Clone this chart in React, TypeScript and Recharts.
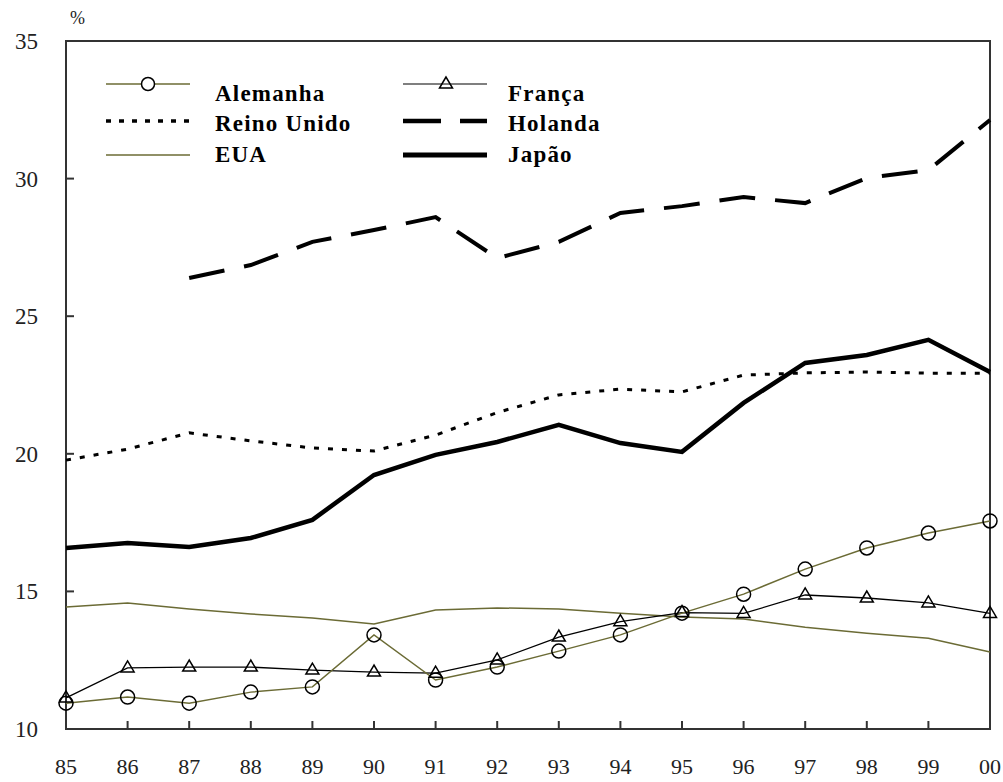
import React from "react";
import { LineChart, Line, XAxis, YAxis, ReferenceArea } from "recharts";

const years = ["85", "86", "87", "88", "89", "90", "91", "92", "93", "94", "95", "96", "97", "98", "99", "00"];

const alemanha = [10.94, 11.16, 10.94, 11.34, 11.53, 13.42, 11.78, 12.25, 12.83, 13.42, 14.21, 14.9, 15.81, 16.58, 17.12, 17.56];
const franca = [11.13, 12.22, 12.25, 12.25, 12.14, 12.07, 12.03, 12.51, 13.34, 13.9, 14.23, 14.2, 14.87, 14.76, 14.58, 14.2];
const reinoUnido = [19.77, 20.17, 20.76, 20.47, 20.21, 20.1, 20.68, 21.5, 22.14, 22.35, 22.25, 22.86, 22.94, 22.97, 22.93, 22.93];
const holanda = [null, null, 26.39, 26.86, 27.7, 28.13, 28.6, 27.11, 27.7, 28.75, 29.0, 29.33, 29.11, 30.02, 30.31, 32.13];
const eua = [14.43, 14.58, 14.36, 14.18, 14.03, 13.82, 14.32, 14.4, 14.36, 14.21, 14.07, 14.0, 13.7, 13.48, 13.3, 12.8];
const japao = [16.58, 16.76, 16.61, 16.94, 17.6, 19.23, 19.96, 20.43, 21.05, 20.39, 20.07, 21.85, 23.3, 23.59, 24.14, 22.97];

const yTicks = [10, 15, 20, 25, 30, 35];

const data = years.map((year, i) => ({
  year,
  alemanha: alemanha[i],
  franca: franca[i],
  reinoUnido: reinoUnido[i],
  holanda: holanda[i],
  eua: eua[i],
  japao: japao[i],
}));

const OLIVE = "#6b6b35";
const SERIF = "'Liberation Serif', 'Times New Roman', serif";

function YTick(props: any) {
  const { x, y, payload } = props;
  const v = payload.value;
  return (
    <g>
      {v !== 10 && v !== 35 && (
        <line x1={x} y1={y} x2={x + 8} y2={y} stroke="#333" strokeWidth={2} />
      )}
      <text x={x - 28} y={y} dy="0.35em" textAnchor="end" fontSize={23} fontFamily={SERIF} fill="#222">
        {v}
      </text>
    </g>
  );
}

function XTick(props: any) {
  const { x, y, payload, index } = props;
  const inner = index !== 0 && index !== years.length - 1;
  return (
    <g>
      {inner && <line x1={x} y1={y} x2={x} y2={y - 8} stroke="#333" strokeWidth={2} />}
      <text x={x} y={y + 37} dy="0.35em" textAnchor="middle" fontSize={22} fontFamily={SERIF} fill="#222">
        {payload.value}
      </text>
    </g>
  );
}

function Triangle(props: any) {
  const { cx, cy } = props;
  if (cx == null || cy == null) return <g />;
  return (
    <path
      d={`M${cx},${cy - 7} L${cx - 6.5},${cy + 4} L${cx + 6.5},${cy + 4} Z`}
      fill="none"
      stroke="#000"
      strokeWidth={1.5}
    />
  );
}

const legendRows = [
  { label: "Alemanha", col: 0, row: 0 },
  { label: "Reino Unido", col: 0, row: 1 },
  { label: "EUA", col: 0, row: 2 },
  { label: "França", col: 1, row: 0 },
  { label: "Holanda", col: 1, row: 1 },
  { label: "Japão", col: 1, row: 2 },
];

function LegendBox() {
  const lineY = [84, 121, 155];
  const textY = [101, 131, 162];
  const colX = [106, 403];
  const textX = [215, 508];
  return (
    <svg width={600} height={180} style={{ position: "absolute", left: 0, top: 0 }}>
      {legendRows.map((r) => {
        const x1 = colX[r.col];
        const x2 = x1 + 84;
        const ly = lineY[r.row];
        let sample: React.ReactNode = null;
        if (r.label === "Alemanha") {
          sample = (
            <g>
              <line x1={x1} y1={ly} x2={x2} y2={ly} stroke={OLIVE} strokeWidth={1.5} />
              <circle cx={x1 + 42} cy={ly} r={6.5} fill="#fff" stroke="#000" strokeWidth={1.5} />
            </g>
          );
        } else if (r.label === "Reino Unido") {
          sample = <line x1={x1} y1={ly} x2={x2} y2={ly} stroke="#000" strokeWidth={3.5} strokeDasharray="5 8" />;
        } else if (r.label === "EUA") {
          sample = <line x1={x1} y1={ly} x2={x2} y2={ly} stroke={OLIVE} strokeWidth={1.5} />;
        } else if (r.label === "França") {
          sample = (
            <g>
              <line x1={x1} y1={ly} x2={x2} y2={ly} stroke="#000" strokeWidth={1.2} />
              <Triangle cx={x1 + 43} cy={ly} />
            </g>
          );
        } else if (r.label === "Holanda") {
          sample = <line x1={x1} y1={ly} x2={x2} y2={ly} stroke="#000" strokeWidth={4.5} strokeDasharray="38 19" />;
        } else {
          sample = <line x1={x1} y1={ly} x2={x2} y2={ly} stroke="#000" strokeWidth={5} />;
        }
        return (
          <g key={r.label}>
            {sample}
            <text
              x={textX[r.col]}
              y={textY[r.row]}
              fontSize={23}
              fontWeight="bold"
              fontFamily={SERIF}
              letterSpacing={1.2}
              fill="#000"
            >
              {r.label}
            </text>
          </g>
        );
      })}
    </svg>
  );
}

export default function App() {
  return (
    <div style={{ position: "absolute", left: 0, top: 0, width: 1003, height: 782, background: "#fff" }}>
      <LineChart width={1003} height={782} data={data} margin={{ top: 41, right: 13, left: 0, bottom: 0 }}>
        <XAxis
          dataKey="year"
          height={53}
          axisLine={false}
          tickLine={false}
          tickSize={0}
          tickMargin={0}
          interval={0}
          tick={(p: any) => <XTick {...p} />}
        />
        <YAxis
          width={66}
          domain={[10, 35]}
          ticks={yTicks}
          axisLine={false}
          tickLine={false}
          tickSize={0}
          tickMargin={0}
          tick={(p: any) => <YTick {...p} />}
        />
        <ReferenceArea x1="85" x2="00" y1={10} y2={35} fill="none" fillOpacity={0} stroke="#333" strokeWidth={2} ifOverflow="visible" />
        <Line dataKey="eua" stroke={OLIVE} strokeWidth={1.5} dot={false} isAnimationActive={false} />
        <Line dataKey="reinoUnido" stroke="#000" strokeWidth={3} strokeDasharray="5 9" dot={false} isAnimationActive={false} />
        <Line dataKey="holanda" stroke="#000" strokeWidth={4} strokeDasharray="36 20" dot={false} isAnimationActive={false} />
        <Line dataKey="japao" stroke="#000" strokeWidth={4.5} dot={false} isAnimationActive={false} />
        <Line
          dataKey="franca"
          stroke="#000"
          strokeWidth={1.3}
          dot={(p: any) => <Triangle {...p} key={`fr-${p.index}`} />}
          isAnimationActive={false}
        />
        <Line
          dataKey="alemanha"
          stroke={OLIVE}
          strokeWidth={1.5}
          dot={{ r: 7, stroke: "#000", strokeWidth: 1.5, fill: "none" }}
          isAnimationActive={false}
        />
      </LineChart>
      <LegendBox />
      <div style={{ position: "absolute", left: 70, top: 8, fontFamily: SERIF, fontSize: 18, color: "#222" }}>%</div>
    </div>
  );
}
